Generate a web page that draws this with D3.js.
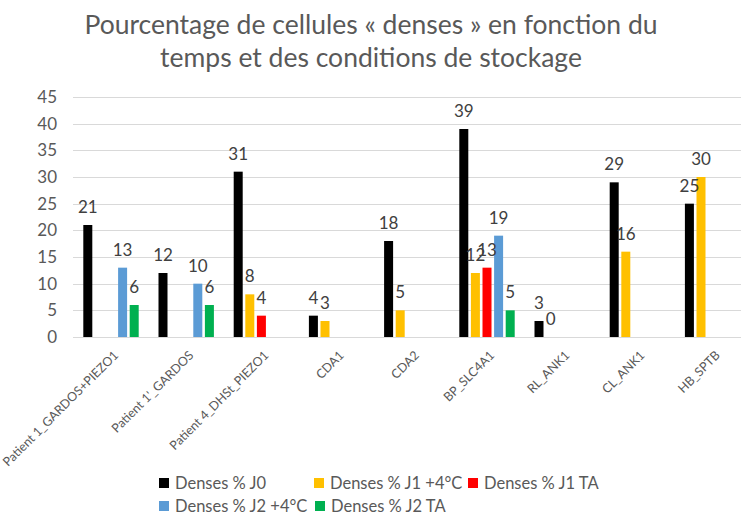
<!DOCTYPE html>
<html>
<head>
<meta charset="utf-8">
<script src="https://cdn.jsdelivr.net/npm/d3@7"></script>
<style>
  html, body { margin: 0; padding: 0; background: #fff; overflow: hidden; }
  svg { display: block; }
</style>
</head>
<body>
<svg id="chart" width="741" height="523"></svg>
<script>
// Categories (samples) and the five storage conditions
const categories = [
  "Patient 1_GARDOS+PIEZO1", "Patient 1'_GARDOS", "Patient 4_DHSt_PIEZO1",
  "CDA1", "CDA2", "BP_SLC4A1", "RL_ANK1", "CL_ANK1", "HB_SPTB"
];
const seriesNames = [
  "Denses % J0", "Denses % J1 +4°C", "Denses % J1 TA",
  "Denses % J2 +4°C", "Denses % J2 TA"
];
const seriesColors = ["#000000", "#FFC000", "#FF0000", "#5B9BD5", "#00B050"];

// Percentage of dense cells; null = not measured
const densesJ0     = [21, 12, 31, 4, 18, 39, 3, 29, 25];
const densesJ1Cold = [null, null, 8, 3, 5, 12, 0, 16, 30];
const densesJ1TA   = [null, null, 4, null, null, 13, null, null, null];
const densesJ2Cold = [13, 10, null, null, null, 19, null, null, null];
const densesJ2TA   = [6, 6, null, null, null, 5, null, null, null];
const seriesValues = [densesJ0, densesJ1Cold, densesJ1TA, densesJ2Cold, densesJ2TA];

const yTicks = [0, 5, 10, 15, 20, 25, 30, 35, 40, 45];

const FONT = "Lato, 'Open Sans', sans-serif";
const svg = d3.select("#chart");

// Title
const title = svg.append("text")
  .attr("x", 371).attr("text-anchor", "middle")
  .attr("font-family", FONT).attr("font-size", 26.5).attr("fill", "#595959");
title.append("tspan").attr("x", 371).attr("y", 34)
  .text("Pourcentage de cellules « denses » en fonction du");
title.append("tspan").attr("x", 371).attr("y", 67)
  .text("temps et des conditions de stockage");

// Scales
const x = d3.scaleBand().domain(categories).range([73.4, 750.2]).padding(0);
const xs = d3.scaleBand().domain(d3.range(seriesNames.length))
  .range([9.9, 65.3]).paddingInner(0.224).paddingOuter(0);
const y = d3.scaleLinear().domain([0, 45]).range([337, 97]);

// Gridlines
svg.append("g").selectAll("line").data(yTicks).join("line")
  .attr("x1", 73).attr("x2", 750)
  .attr("y1", d => Math.round(y(d)) + 0.5).attr("y2", d => Math.round(y(d)) + 0.5)
  .attr("stroke", "#d9d9d9").attr("stroke-width", 1);

// Y axis labels
const yAxis = svg.append("g").attr("transform", "translate(57,0)")
  .call(d3.axisLeft(y).tickValues(yTicks).tickSize(0).tickPadding(0));
yAxis.select(".domain").remove();
yAxis.selectAll("text")
  .attr("font-family", FONT).attr("font-size", 17).attr("fill", "#595959");

// Bars and value labels
const flat = [];
seriesValues.forEach((vals, s) => vals.forEach((v, c) => {
  if (v !== null) flat.push({ s, c, v });
}));

svg.append("g").selectAll("rect").data(flat).join("rect")
  .attr("x", d => x(categories[d.c]) + xs(d.s))
  .attr("width", xs.bandwidth())
  .attr("y", d => y(d.v))
  .attr("height", d => y(0) - y(d.v))
  .attr("fill", d => seriesColors[d.s]);

svg.append("g").selectAll("text").data(flat).join("text")
  .attr("x", d => x(categories[d.c]) + xs(d.s) + xs.bandwidth() / 2)
  .attr("y", d => y(d.v) - 12)
  .attr("text-anchor", "middle")
  .attr("font-family", FONT).attr("font-size", 17).attr("fill", "#404040")
  .text(d => d.v);

// Category labels, rotated
const xAxis = svg.append("g").attr("transform", "translate(0,337)")
  .call(d3.axisBottom(x).tickSize(0).tickPadding(0));
xAxis.select(".domain").attr("stroke", "#d9d9d9").attr("d", "M73,0.5H750");
xAxis.selectAll("text")
  .attr("font-family", FONT).attr("font-size", 12.5).attr("fill", "#595959")
  .attr("text-anchor", "end")
  .attr("dy", "0.35em")
  .attr("transform", "translate(5,16) rotate(-45)");

// Legend
const legendItems = [
  { s: 0, x: 159, y: 483 }, { s: 1, x: 314, y: 483 }, { s: 2, x: 468, y: 483 },
  { s: 3, x: 159, y: 506 }, { s: 4, x: 315, y: 506 }
];
const lg = svg.append("g").selectAll("g").data(legendItems).join("g")
  .attr("transform", d => `translate(${d.x},${d.y})`);
lg.append("rect").attr("x", 0).attr("y", -5).attr("width", 10).attr("height", 10)
  .attr("fill", d => seriesColors[d.s]);
lg.append("text").attr("x", 16).attr("dy", "0.36em")
  .attr("font-family", FONT).attr("font-size", 16.5).attr("fill", "#595959")
  .text(d => seriesNames[d.s]);
</script>
</body>
</html>
